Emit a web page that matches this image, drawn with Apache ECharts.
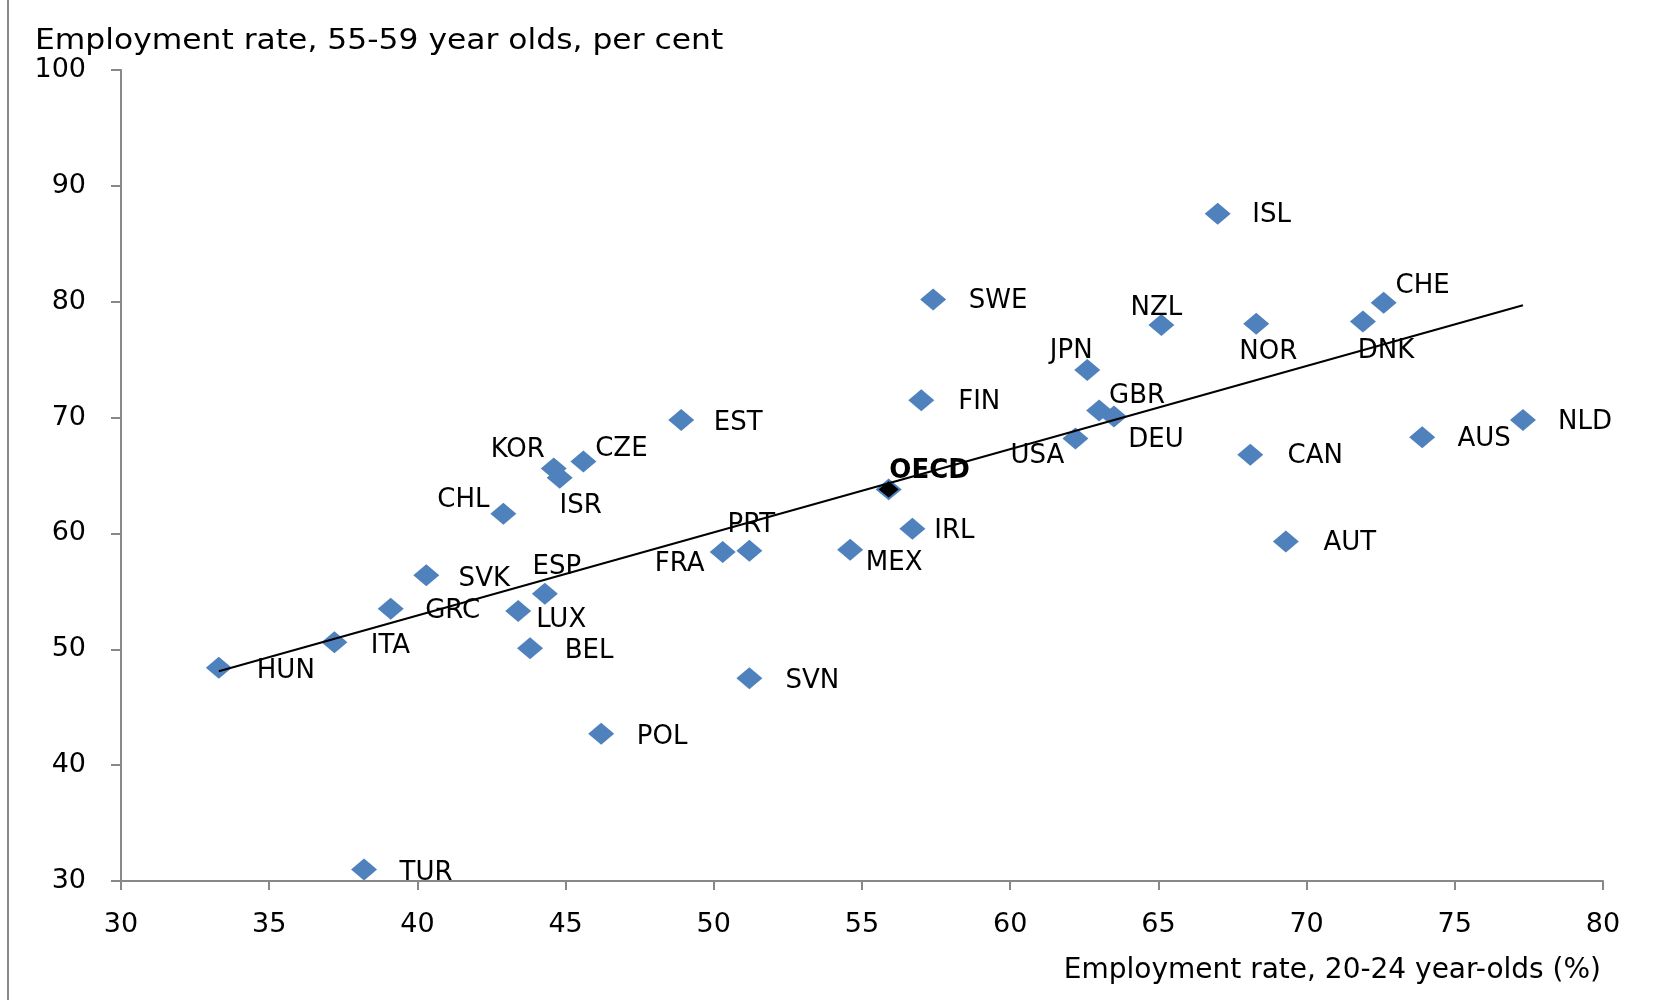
<!DOCTYPE html>
<html>
<head>
<meta charset="utf-8">
<script src="https://cdn.jsdelivr.net/npm/echarts@6/dist/echarts.min.js"></script>
<style>html,body{margin:0;padding:0;background:#fff;}#c{width:1655px;height:1000px;}</style>
</head>
<body>
<div id="c"></div>
<script>
// ---- data ----
var countries = ['HUN','ITA','GRC','SVK','TUR','CHL','KOR','ISR','CZE','LUX','ESP','BEL','POL','EST','FRA','PRT','SVN','MEX','IRL','FIN','SWE','JPN','GBR','DEU','USA','NZL','ISL','NOR','CAN','AUT','DNK','CHE','AUS','NLD','OECD'];
var youthRate = [33.3,37.2,39.1,40.3,38.2,42.9,44.6,44.8,45.6,43.4,44.3,43.8,46.2,48.9,50.3,51.2,51.2,54.6,56.7,57.0,57.4,62.6,63.0,63.5,62.2,65.1,67.0,68.3,68.1,69.3,71.9,72.6,73.9,77.3,55.9];
var olderRate = [48.4,50.6,53.5,56.4,31.0,61.7,65.6,64.8,66.2,53.3,54.8,50.1,42.7,69.8,58.4,58.5,47.5,58.6,60.4,71.5,80.2,74.1,70.6,70.1,68.2,78.0,87.6,78.1,66.8,59.3,78.3,79.9,68.3,69.8,63.8];
var trendX = [33.3, 77.3];
var trendY = [48.1, 79.7];
var xTicks = {min: 30, max: 80, step: 5};
var yTicks = {min: 30, max: 100, step: 10};
var yTitle = 'Employment rate, 55-59 year olds, per cent';
var xTitle = 'Employment rate, 20-24 year-olds (%)';

// ---- label placement (layout, px offsets from marker centre) ----
var labelOffset = {
  HUN:[67,3], ITA:[56,4], GRC:[62,3], SVK:[58,4], TUR:[62,4], CHL:[-40,-13], KOR:[-36,-18],
  ISR:[21,28], CZE:[38,-12], LUX:[43,9], ESP:[12,-26], BEL:[59,3], POL:[61,3], EST:[57,3],
  FRA:[-43,12], PRT:[2,-26], SVN:[63,3], MEX:[44,14], IRL:[42,2], FIN:[58,2], SWE:[65,2],
  JPN:[-16,-19], GBR:[38,-14], DEU:[42,24], USA:[-38,18], NZL:[-5,-17], ISL:[54,2],
  NOR:[12,29], CAN:[65,2], AUT:[64,2], DNK:[23,30], CHE:[39,-17], AUS:[62,2], NLD:[62,2],
  OECD:[42,-17]
};

var FONT = 'DejaVu Sans';
var pts = countries.map(function(c, i){
  var isO = c === 'OECD';
  var sz = isO ? [23, 19] : [26, 22];
  var off = labelOffset[c];
  return {
    name: c,
    value: [youthRate[i], olderRate[i]],
    symbolSize: sz,
    itemStyle: isO ? {color:'#000000', borderColor:'#4F81BD', borderWidth:2, opacity: 1} : {color:'#4F81BD', opacity: 1},
    label: {
      show: true, position: [sz[0] / 2 + off[0], sz[1] / 2 + off[1]],
      formatter: c, color: '#000', fontFamily: FONT, fontSize: 26, textBorderWidth: 0,
      fontWeight: isO ? 'bold' : 'normal', align: 'center', verticalAlign: 'middle'
    },
    z: isO ? 5 : 3
  };
});

var chart = echarts.init(document.getElementById('c'), null, {renderer: 'canvas'});
chart.setOption({
  animation: false,
  backgroundColor: '#ffffff',
  grid: {left: 121, top: 70, width: 1482, height: 811, containLabel: false},
  xAxis: {
    type: 'value', min: xTicks.min, max: xTicks.max, interval: xTicks.step,
    splitLine: {show: false},
    axisLine: {show: true, onZero: false, lineStyle: {color: '#888888', width: 2}},
    axisTick: {show: true, length: 9, lineStyle: {color: '#888888', width: 2}},
    axisLabel: {color: '#000', fontFamily: FONT, fontSize: 27, margin: 30}
  },
  yAxis: {
    type: 'value', min: yTicks.min, max: yTicks.max, interval: yTicks.step,
    splitLine: {show: false},
    axisLine: {show: true, onZero: false, lineStyle: {color: '#888888', width: 2}},
    axisTick: {show: true, length: 10, lineStyle: {color: '#888888', width: 2}},
    axisLabel: {color: '#000', fontFamily: FONT, fontSize: 27, margin: 35}
  },
  graphic: [
    {type: 'line', shape: {x1: 8, y1: 0, x2: 8, y2: 1000}, style: {stroke: '#888888', lineWidth: 2}},
    {type: 'text', x: 35, y: 42, scaleX: 1.12, style: {text: yTitle, fill: '#000', font: '28px "' + FONT + '"', verticalAlign: 'middle', align: 'left'}},
    {type: 'text', x: 1601, y: 971, style: {text: xTitle, fill: '#000', font: '28px "' + FONT + '"', verticalAlign: 'middle', align: 'right'}}
  ],
  series: [
    {
      type: 'line', data: trendX.map(function(x, i){ return [x, trendY[i]]; }),
      showSymbol: false, symbol: 'none', lineStyle: {color: '#000', width: 2}, z: 4, silent: true
    },
    {
      type: 'scatter', symbol: 'diamond', data: pts, z: 3, itemStyle: {opacity: 1}
    }
  ]
});
</script>
</body>
</html>
